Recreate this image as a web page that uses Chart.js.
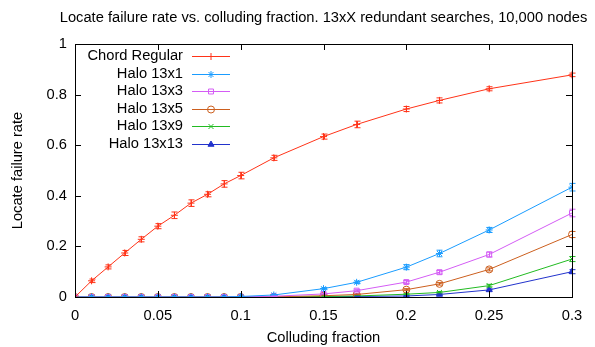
<!DOCTYPE html>
<html>
<head>
<meta charset="utf-8">
<script src="https://cdn.jsdelivr.net/npm/chart.js@4/dist/chart.umd.min.js"></script>
<style>
  html, body { margin: 0; padding: 0; background: #fff; }
  #wrap { width: 595px; height: 347px; }
</style>
</head>
<body>
<div id="wrap"><canvas id="grafico" width="595" height="347"></canvas></div>
<script>
// datos
const fraccion = [0, 0.01, 0.02, 0.03, 0.04, 0.05, 0.06, 0.07, 0.08, 0.09, 0.1, 0.12, 0.15, 0.17, 0.2, 0.22, 0.25, 0.3];

const chordRegular = [0, 0.064, 0.119, 0.174, 0.228, 0.28, 0.323, 0.371, 0.406, 0.447, 0.48, 0.55, 0.634, 0.682, 0.743, 0.777, 0.823, 0.878];
const chordErr     = [0, 0.007, 0.008, 0.01, 0.01, 0.01, 0.013, 0.013, 0.01, 0.013, 0.013, 0.01, 0.01, 0.013, 0.01, 0.01, 0.008, 0.007];

const halo1    = [0, 0, 0, 0, 0, 0, 0, 0, 0, 0, 0.002, 0.008, 0.033, 0.058, 0.118, 0.172, 0.265, 0.434];
const halo1Err = [0, 0, 0, 0, 0, 0, 0, 0, 0, 0, 0.001, 0.002, 0.004, 0.005, 0.01, 0.013, 0.01, 0.015];

const halo3    = [0, 0, 0, 0, 0, 0, 0, 0, 0, 0, 0.001, 0.003, 0.012, 0.025, 0.059, 0.098, 0.168, 0.332];
const halo3Err = [0, 0, 0, 0, 0, 0, 0, 0, 0, 0, 0, 0.001, 0.003, 0.004, 0.006, 0.007, 0.01, 0.015];

const halo5    = [0, 0, 0, 0, 0, 0, 0, 0, 0, 0, 0, 0.001, 0.005, 0.01, 0.029, 0.052, 0.109, 0.247];
const halo5Err = [0, 0, 0, 0, 0, 0, 0, 0, 0, 0, 0, 0, 0.002, 0.002, 0.004, 0.005, 0.006, 0.012];

const halo9    = [0, 0, 0, 0, 0, 0, 0, 0, 0, 0, 0, 0, 0.002, 0.004, 0.011, 0.018, 0.045, 0.15];
const halo9Err = [0, 0, 0, 0, 0, 0, 0, 0, 0, 0, 0, 0, 0.001, 0.001, 0.002, 0.003, 0.005, 0.01];

const halo13    = [0, 0, 0, 0, 0, 0, 0, 0, 0, 0, 0, 0, 0.001, 0.002, 0.004, 0.01, 0.028, 0.1];
const halo13Err = [0, 0, 0, 0, 0, 0, 0, 0, 0, 0, 0, 0, 0, 0.001, 0.001, 0.002, 0.004, 0.008];

const xTicks = [0, 0.05, 0.1, 0.15, 0.2, 0.25, 0.3];
const yTicks = [0, 0.2, 0.4, 0.6, 0.8, 1];

const titulo = "Locate failure rate vs. colluding fraction. 13xX redundant searches, 10,000 nodes";

const series = [
    { label: "Chord Regular", data: chordRegular, err: chordErr, color: "#ff3318", style: "cross", fill: false },
    { label: "Halo 13x1",     data: halo1,  err: halo1Err,  color: "#1a9cff", style: "star", fill: false },
    { label: "Halo 13x3",     data: halo3,  err: halo3Err,  color: "#d45cf5", style: "rect", fill: false },
    { label: "Halo 13x5",     data: halo5,  err: halo5Err,  color: "#cc5f1e", style: "circle", fill: false },
    { label: "Halo 13x9",     data: halo9,  err: halo9Err,  color: "#22bb22", style: "crossRot", fill: false },
    { label: "Halo 13x13",    data: halo13, err: halo13Err, color: "#2233cc", style: "triangle", fill: true }
];

const FUENTE = "'Liberation Sans', Arial, Helvetica, sans-serif";
const TAM = 14.7;

// marco, ticks internos, barras de error, leyenda y titulo
const extras = {
    id: "extras",
    afterDatasetsDraw(chart) {
        const ctx = chart.ctx;
        const ys = chart.scales.y;
        ctx.save();
        series.forEach((s, i) => {
            const meta = chart.getDatasetMeta(i);
            ctx.strokeStyle = s.color;
            ctx.lineWidth = 1;
            meta.data.forEach((p, j) => {
                const e = s.err[j];
                if (!e) return;
                const yt = ys.getPixelForValue(s.data[j] + e);
                const yb = ys.getPixelForValue(Math.max(0, s.data[j] - e));
                const x = Math.round(p.x) + 0.5;
                ctx.beginPath();
                ctx.moveTo(x, yt); ctx.lineTo(x, yb);
                ctx.moveTo(x - 3, yt); ctx.lineTo(x + 3, yt);
                ctx.moveTo(x - 3, yb); ctx.lineTo(x + 3, yb);
                ctx.stroke();
            });
        });
        ctx.restore();
    },
    afterDraw(chart) {
        const ctx = chart.ctx;
        const a = chart.chartArea;
        const xs = chart.scales.x, ys = chart.scales.y;
        ctx.save();
        ctx.strokeStyle = "#000";
        ctx.lineWidth = 1;
        ctx.strokeRect(Math.round(a.left) + 0.5, Math.round(a.top) + 0.5, Math.round(a.right - a.left), Math.round(a.bottom - a.top));
        ctx.beginPath();
        xTicks.forEach(v => {
            const x = Math.round(xs.getPixelForValue(v)) + 0.5;
            ctx.moveTo(x, a.bottom); ctx.lineTo(x, a.bottom - 6);
            ctx.moveTo(x, a.top); ctx.lineTo(x, a.top + 6);
        });
        yTicks.forEach(v => {
            const y = Math.round(ys.getPixelForValue(v)) + 0.5;
            ctx.moveTo(a.left, y); ctx.lineTo(a.left + 6, y);
            ctx.moveTo(a.right, y); ctx.lineTo(a.right - 6, y);
        });
        ctx.stroke();

        // titulo
        ctx.fillStyle = "#000";
        ctx.font = TAM + "px " + FUENTE;
        ctx.textAlign = "center";
        ctx.textBaseline = "middle";
        ctx.fillText(titulo, (a.left + a.right) / 2, 18);

        // leyenda
        ctx.textAlign = "right";
        series.forEach((s, i) => {
            const y = 56 + i * 17.5;
            ctx.fillStyle = "#000";
            ctx.fillText(s.label, 183, y);
            ctx.strokeStyle = s.color;
            ctx.beginPath();
            ctx.moveTo(192, Math.round(y) + 0.5);
            ctx.lineTo(230, Math.round(y) + 0.5);
            ctx.stroke();
            ctx.fillStyle = s.fill ? s.color : "transparent";
            Chart.helpers.drawPoint(ctx, { pointStyle: s.style, radius: 3.5, borderWidth: 1, rotation: 0 }, 211, Math.round(y) + 0.5);
        });
        ctx.restore();
    }
};

const ctx = document.getElementById("grafico").getContext("2d");
const chart = new Chart(ctx, {
    type: "line",
    data: {
        labels: fraccion,
        datasets: series.map(s => ({
            label: s.label,
            data: fraccion.map((f, j) => ({ x: f, y: s.data[j] })),
            borderColor: s.color,
            backgroundColor: s.fill ? s.color : "rgba(0,0,0,0)",
            pointBackgroundColor: s.fill ? s.color : "rgba(0,0,0,0)",
            pointBorderColor: s.color,
            pointStyle: s.style,
            pointRadius: 3.5,
            pointBorderWidth: 1,
            borderWidth: 1,
            tension: 0,
            fill: false
        }))
    },
    options: {
        responsive: false,
        animation: false,
        devicePixelRatio: 1,
        layout: { padding: { top: 44, right: 23, left: 0, bottom: 0 } },
        plugins: {
            legend: { display: false },
            title: { display: false },
            tooltip: { enabled: false }
        },
        scales: {
            x: {
                type: "linear",
                min: 0, max: 0.3,
                afterFit: s => { s.height = 50; },
                afterBuildTicks: s => { s.ticks = xTicks.map(v => ({ value: v })); },
                grid: { display: false, drawTicks: false },
                border: { display: false },
                ticks: { padding: 10, color: "#000", maxRotation: 0, callback: v => String(v), font: { size: TAM, family: FUENTE } },
                title: { display: true, text: "Colluding fraction", color: "#000", padding: { top: 0, bottom: 0 }, font: { size: TAM, family: FUENTE } }
            },
            y: {
                min: 0, max: 1,
                afterFit: s => { s.width = 75; },
                afterBuildTicks: s => { s.ticks = yTicks.map(v => ({ value: v })); },
                grid: { display: false, drawTicks: false },
                border: { display: false },
                ticks: { padding: 8, color: "#000", callback: v => String(v), font: { size: TAM, family: FUENTE } },
                title: { display: true, text: "Locate failure rate", color: "#000", padding: { top: 9, bottom: 0 }, font: { size: TAM, family: FUENTE } }
            }
        }
    },
    plugins: [extras]
});
</script>
</body>
</html>
